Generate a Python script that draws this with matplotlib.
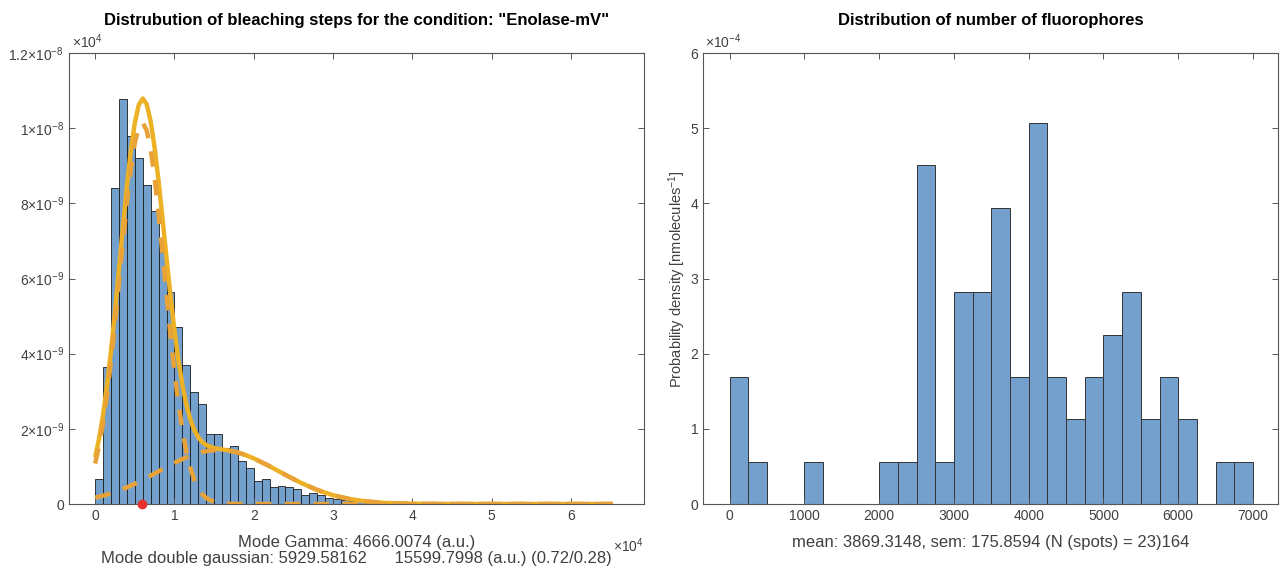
import numpy as np
import matplotlib.pyplot as plt

plt.rcParams['font.family'] = ['Liberation Sans', 'DejaVu Sans']
plt.rcParams['mathtext.fontset'] = 'custom'
plt.rcParams['mathtext.rm'] = 'Liberation Sans'
plt.rcParams['mathtext.it'] = 'Liberation Sans:italic'
plt.rcParams['mathtext.bf'] = 'Liberation Sans:bold'

# ---- left panel: bleaching step intensities (bins of 1000 a.u., density in 1e-9) ----
step_bins = list(range(0, 66000, 1000))
step_dens = [0.67, 3.65, 8.42, 10.77, 9.80, 9.22, 8.50, 7.81, 6.71, 5.64,
             4.71, 3.69, 2.97, 2.67, 1.86, 1.86, 1.48, 1.55, 1.15, 0.95,
             0.60, 0.66, 0.44, 0.47, 0.45, 0.41, 0.24, 0.28, 0.24, 0.17,
             0.14, 0.11, 0.09, 0.08, 0.07, 0.05, 0.04, 0.03, 0.02, 0.02,
             0.01, 0.02, 0.05, 0.01, 0.01, 0.0, 0.0, 0.01, 0.0, 0.0,
             0.0, 0.0, 0.0, 0.0, 0.0, 0.0, 0.0, 0.0, 0.0, 0.0,
             0.0, 0.0, 0.0, 0.0, 0.0, 0.01]

# double gaussian fit (units 1e-9)
fit_x = [0, 500, 1000, 1500, 2000, 2500, 3000, 3500, 4000, 4500,
         5000, 5500, 6000, 6500, 7000, 7500, 8000, 8500, 9000, 9500,
         10000, 10500, 11000, 11500, 12000, 12500, 13000, 13500, 14000,
         15000, 16000, 17000, 18000, 19000, 20000, 22000, 24000, 26000,
         28000, 30000, 32000, 34000, 36000, 38000, 40000, 42000, 44000, 65300]
fit_total = [1.247, 1.744, 2.376, 3.156, 4.075, 5.115, 6.229, 7.364, 8.445, 9.398,
             10.142, 10.620, 10.789, 10.639, 10.188, 9.483, 8.591, 7.587, 6.547, 5.542,
             4.623, 3.826, 3.166, 2.646, 2.253, 1.971, 1.776, 1.648, 1.568,
             1.488, 1.454, 1.419, 1.370, 1.301, 1.215, 1.005, 0.775, 0.558,
             0.374, 0.234, 0.136, 0.074, 0.037, 0.018, 0.008, 0.003, 0.001, 0.0]

comp1_x = [0, 500, 1000, 1500, 2000, 2500, 3000, 3500, 4000, 4500,
           5000, 5500, 6000, 6500, 7000, 7500, 8000, 8500, 9000, 9500,
           10000, 10500, 11000, 11500, 12000, 12500, 13000, 13500, 14000,
           15000, 16000, 17000, 18000, 65300]
comp1_y = [1.077, 1.549, 2.154, 2.904, 3.791, 4.795, 5.871, 6.965, 8.003, 8.909,
           9.605, 10.031, 10.147, 9.942, 9.435, 8.673, 7.723, 6.662, 5.564, 4.503,
           3.529, 2.680, 1.970, 1.403, 0.968, 0.647, 0.419, 0.263, 0.160,
           0.053, 0.016, 0.004, 0.0, 0.0]

comp2_x = [0, 1000, 2000, 3000, 4000, 5000, 6000, 7000, 8000, 9000,
           10000, 11000, 12000, 13000, 14000, 15000, 16000, 17000, 18000, 19000,
           20000, 22000, 24000, 26000, 28000, 30000, 32000, 34000, 36000, 38000,
           40000, 42000, 44000, 65300]
comp2_y = [0.170, 0.222, 0.284, 0.358, 0.442, 0.537, 0.642, 0.753, 0.868, 0.983,
           1.094, 1.196, 1.285, 1.357, 1.408, 1.435, 1.438, 1.415, 1.369, 1.301,
           1.215, 1.005, 0.775, 0.558, 0.374, 0.234, 0.136, 0.074, 0.037, 0.018,
           0.008, 0.003, 0.001, 0.0]

mode_x = 5929.58162

# ---- right panel: number of fluorophores (bins of 250, density in 1e-4) ----
fluor_bins = list(range(0, 7000, 250))
fluor_dens = [1.69, 0.56, 0, 0, 0.56, 0, 0, 0, 0.56, 0.56,
              4.51, 0.56, 2.82, 2.82, 3.94, 1.69, 5.07, 1.69, 1.13, 1.69,
              2.25, 2.82, 1.13, 1.69, 1.13, 0, 0.56, 0.56]

bar_col = '#73A0CC'
txt_col = '#404040'
orange = '#EDB125'
orange_dash = '#E8A238'


def matlab_box(ax):
    for s in ax.spines.values():
        s.set_color('#555555')
        s.set_linewidth(0.8)
    ax.tick_params(direction='in', top=True, right=True, length=4, width=0.7,
                   colors='#555555', labelcolor=txt_col, labelsize=10)


fig = plt.figure(figsize=(12.82, 5.66), dpi=100)
ax1 = fig.add_axes([0.0538, 0.1095, 0.4485, 0.7968])
ax2 = fig.add_axes([0.5484, 0.1095, 0.4485, 0.7968])

# left
ax1.bar(step_bins, np.array(step_dens) * 1e-9, width=1000, align='edge',
        color=bar_col, edgecolor='#1c1c1c', linewidth=0.6)
ax1.plot(fit_x, np.array(fit_total) * 1e-9, color=orange, lw=3.2, solid_capstyle='butt')
ax1.plot(comp1_x, np.array(comp1_y) * 1e-9, color=orange_dash, lw=3.2, dashes=(3.5, 3))
ax1.plot(comp2_x, np.array(comp2_y) * 1e-9, color=orange_dash, lw=3.2, dashes=(3.5, 3))
ax1.plot([mode_x], [0], 'o', color='#E8312F', ms=6, clip_on=False, zorder=5)

ax1.set_xlim(-3300, 69200)
ax1.set_ylim(0, 1.2e-8)
ax1.set_xticks([0, 10000, 20000, 30000, 40000, 50000, 60000])
ax1.set_xticklabels(['0', '1', '2', '3', '4', '5', '6'])
ax1.set_yticks([0, 2e-9, 4e-9, 6e-9, 8e-9, 1e-8, 1.2e-8])
ax1.set_yticklabels(['0', '2×10$^{-9}$', '4×10$^{-9}$', '6×10$^{-9}$',
                     '8×10$^{-9}$', '1×10$^{-8}$', '1.2×10$^{-8}$'])
matlab_box(ax1)
ax1.set_title('Distrubution of bleaching steps for the condition: "Enolase-mV"',
              fontsize=12, fontweight='bold', pad=20)
ax1.text(0.006, 1.005, '×10$^{4}$', transform=ax1.transAxes, fontsize=10,
         color=txt_col, ha='left', va='bottom')
ax1.text(0.947, -0.072, '×10$^{4}$', transform=ax1.transAxes, fontsize=10,
         color=txt_col, ha='left', va='top')
ax1.text(0.5, -0.068, 'Mode Gamma: 4666.0074 (a.u.)', transform=ax1.transAxes,
         fontsize=12, color=txt_col, ha='center', va='top')
ax1.text(0.5, -0.105, 'Mode double gaussian: 5929.58162      15599.7998 (a.u.) (0.72/0.28)',
         transform=ax1.transAxes, fontsize=12, color=txt_col, ha='center', va='top')

# right
ax2.bar(fluor_bins, np.array(fluor_dens) * 1e-4, width=250, align='edge',
        color=bar_col, edgecolor='#333333', linewidth=0.7)
ax2.set_xlim(-355, 7335)
ax2.set_ylim(0, 6e-4)
ax2.set_xticks(range(0, 8000, 1000))
ax2.set_yticks([0, 1e-4, 2e-4, 3e-4, 4e-4, 5e-4, 6e-4])
ax2.set_yticklabels(['0', '1', '2', '3', '4', '5', '6'])
matlab_box(ax2)
ax2.set_title('Distribution of number of fluorophores', fontsize=12,
              fontweight='bold', pad=20)
ax2.text(0.004, 1.005, '×10$^{-4}$', transform=ax2.transAxes, fontsize=10,
         color=txt_col, ha='left', va='bottom')
ax2.set_ylabel('Probability density [nmolecules$^{-1}$]', fontsize=10.5,
               color=txt_col, labelpad=2)
ax2.text(0.5, -0.068, 'mean: 3869.3148, sem: 175.8594 (N (spots) = 23)164',
         transform=ax2.transAxes, fontsize=12, color=txt_col, ha='center', va='top')

fig.savefig('out.png', dpi=100)
